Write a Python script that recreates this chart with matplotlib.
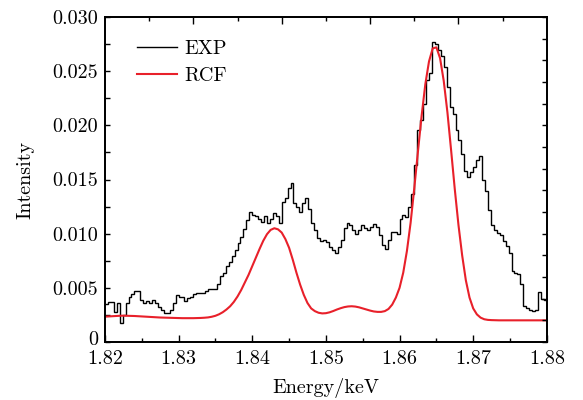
import numpy as np
import matplotlib
matplotlib.use('Agg')
import matplotlib.pyplot as plt
from matplotlib.ticker import MultipleLocator, FixedFormatter, FixedLocator
from matplotlib.transforms import ScaledTranslation

plt.rcParams['font.family'] = 'serif'
plt.rcParams['font.serif'] = ['cmr10']
plt.rcParams['mathtext.fontset'] = 'cm'
plt.rcParams['axes.unicode_minus'] = False

# measured spectrum (step histogram), intensity in units of 1e-3
exp_start = 1.820
exp_bin = 0.0004
exp_vals = [3.5, 3.7, 3.7, 2.8, 3.6, 1.8, 2.5, 3.6, 4.2, 4.4,
            4.7, 4.7, 3.9, 3.6, 3.8, 3.6, 3.9, 3.6, 3.2, 3.0,
            2.7, 2.7, 3.0, 3.6, 4.3, 4.2, 4.2, 3.8, 4.1, 4.2,
            4.4, 4.5, 4.5, 4.5, 4.7, 4.9, 4.9, 4.9, 5.4, 6.1,
            6.4, 7.0, 7.4, 7.9, 8.5, 9.1, 9.7, 10.4, 11.3, 12.0,
            11.7, 11.6, 11.4, 11.1, 11.6, 11.0, 11.4, 11.9, 11.6, 11.0,
            12.9, 13.3, 14.2, 14.7, 12.8, 12.5, 12.0, 12.8, 13.3, 12.3,
            11.0, 10.3, 9.6, 9.3, 9.4, 9.2, 8.8, 8.5, 8.2, 8.8,
            9.4, 10.5, 11.0, 10.8, 10.3, 10.0, 10.3, 10.8, 10.5, 10.3,
            10.6, 10.9, 10.6, 9.9, 9.0, 8.6, 9.4, 10.2, 10.2, 10.0,
            11.4, 11.7, 11.5, 12.5, 13.7, 16.3, 19.6, 20.5, 22.0, 24.2,
            24.8, 27.7, 27.5, 27.0, 26.4, 25.4, 23.5, 21.7, 21.0, 19.6,
            18.6, 17.4, 15.8, 15.2, 15.7, 16.2, 16.8, 17.2, 15.0, 13.9,
            12.2, 10.8, 10.3, 10.1, 9.9, 9.3, 8.9, 8.2, 6.6, 6.4,
            6.3, 5.4, 3.3, 3.1, 3.0, 2.9, 3.0, 4.6, 4.0, 3.9]

# fitted curve, sampled every 0.0005 keV, units of 1e-3
rcf_start = 1.820
rcf_step = 0.0005
rcf_vals = [2.34, 2.36, 2.38, 2.40, 2.42, 2.43, 2.42, 2.41, 2.40, 2.38,
            2.36, 2.34, 2.32, 2.30, 2.28, 2.26, 2.25, 2.24, 2.23, 2.22,
            2.21, 2.20, 2.20, 2.20, 2.20, 2.21, 2.22, 2.24, 2.27, 2.33,
            2.42, 2.56, 2.75, 3.00, 3.30, 3.70, 4.20, 4.80, 5.50, 6.20,
            7.00, 7.80, 8.60, 9.35, 9.95, 10.35, 10.5, 10.4, 10.1, 9.5,
            8.7, 7.6, 6.4, 5.3, 4.35, 3.6, 3.1, 2.85, 2.7, 2.64,
            2.66, 2.74, 2.86, 3.0, 3.12, 3.22, 3.28, 3.3, 3.27, 3.2,
            3.1, 3.0, 2.9, 2.82, 2.78, 2.78, 2.85, 3.05, 3.45, 4.1,
            5.0, 6.4, 8.4, 11.0, 14.2, 17.6, 20.9, 23.8, 25.9, 27.1,
            27.2, 26.2, 24.1, 21.2, 17.7, 14.1, 10.8, 8.0, 5.7, 4.1,
            3.1, 2.55, 2.25, 2.1, 2.04, 2.02, 2.01, 2.0, 2.0, 2.0,
            2.0, 2.0, 2.0, 2.0, 2.0, 2.0, 2.0, 2.0, 2.0, 2.0,
            2.0]

x_ticks = [1.82, 1.83, 1.84, 1.85, 1.86, 1.87, 1.88]
y_ticks = [0, 0.005, 0.010, 0.015, 0.020, 0.025, 0.030]
y_labels = ['0', '0.005', '0.010', '0.015', '0.020', '0.025', '0.030']

edges = exp_start + exp_bin * np.arange(len(exp_vals) + 1)
rcf_x = rcf_start + rcf_step * np.arange(len(rcf_vals))

fs = 14.5

fig = plt.figure(figsize=(5.83, 4.0), dpi=100)
ax = fig.add_axes([0.18, 0.145, 0.758, 0.8125])

ax.stairs(np.array(exp_vals) * 1e-3, edges, baseline=None,
          color='black', linewidth=1.0, label='EXP')
ax.plot(rcf_x, np.array(rcf_vals) * 1e-3, color='#e8202a',
        linewidth=1.5, label='RCF')

ax.set_xlim(1.82, 1.88)
ax.set_ylim(0, 0.030)
ax.set_xticks(x_ticks)
ax.set_xticklabels(['%.2f' % v for v in x_ticks])
ax.xaxis.set_minor_locator(MultipleLocator(0.005))
ax.set_yticks(y_ticks)
ax.set_yticklabels(y_labels)
ax.yaxis.set_minor_locator(MultipleLocator(0.0025))

ax.tick_params(which='both', direction='in', labelsize=fs, width=1.0)
ax.tick_params(axis='x', which='major', length=5, pad=6)
ax.tick_params(axis='x', which='minor', length=3)
ax.tick_params(axis='y', which='both', length=3.5, pad=5)

# lift the "0" a little so it clears the 1.82 label
zero_lbl = ax.get_yticklabels()[0]
zero_lbl.set_transform(zero_lbl.get_transform() +
                       ScaledTranslation(0, 2.5 / 72, fig.dpi_scale_trans))

# top axis: ticks every 0.006, longer every 0.012
ax_top = ax.twiny()
ax_top.set_xlim(ax.get_xlim())
ax_top.xaxis.set_major_locator(FixedLocator([1.832, 1.844, 1.856, 1.868]))
ax_top.xaxis.set_minor_locator(FixedLocator([1.826, 1.838, 1.850, 1.862, 1.874]))
ax_top.tick_params(which='both', direction='in', labeltop=False, width=1.0)
ax_top.tick_params(which='major', length=5)
ax_top.tick_params(which='minor', length=3)

# right axis: ticks every 0.002
ax_right = ax.twinx()
ax_right.set_ylim(ax.get_ylim())
ax_right.yaxis.set_major_locator(MultipleLocator(0.002))
ax_right.tick_params(direction='in', labelright=False, length=3.5, width=1.0)

for a in (ax, ax_top, ax_right):
    for s in a.spines.values():
        s.set_linewidth(1.1)

ax.set_xlabel('Energy/keV', fontsize=fs, labelpad=7)
ax.set_ylabel('Intensity', fontsize=fs, labelpad=13)

ax.legend(loc='upper left', bbox_to_anchor=(0.031, 0.985), frameon=False,
          fontsize=fs, handlelength=2.0, handletextpad=0.35, labelspacing=0.45)

fig.savefig('out.png', dpi=100)
